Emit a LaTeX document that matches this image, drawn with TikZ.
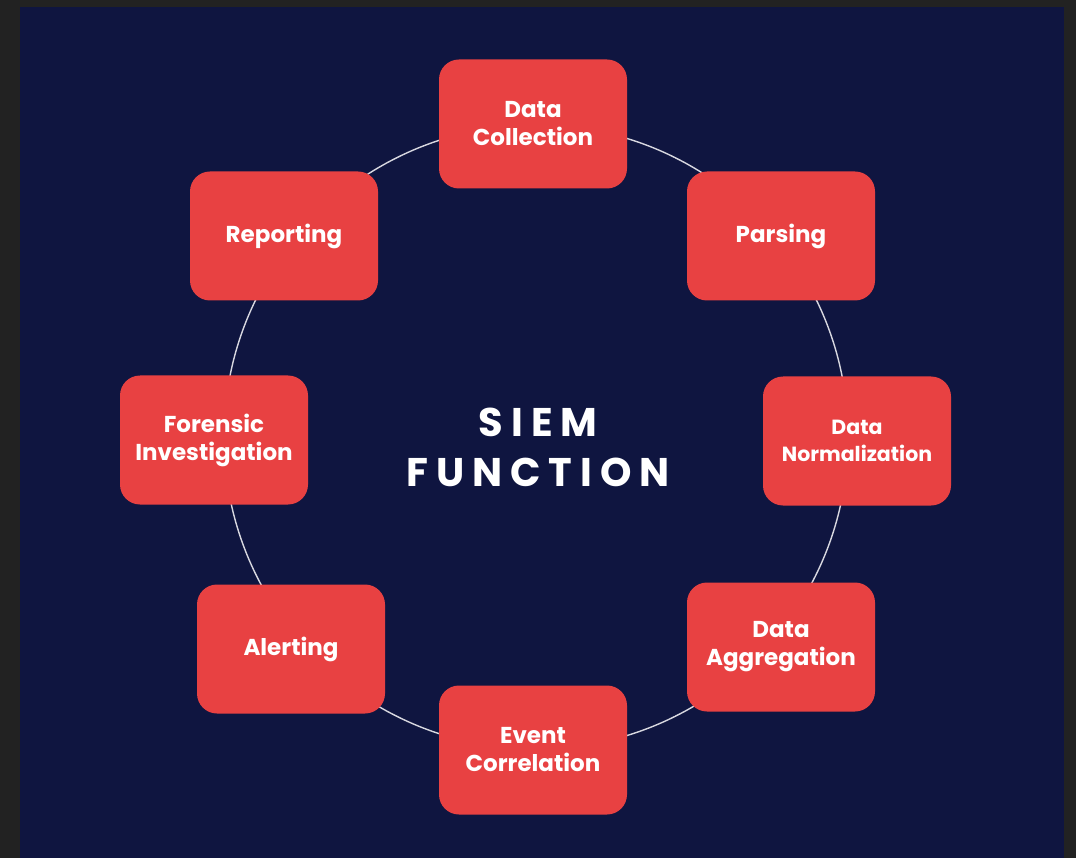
\documentclass[tikz,border=0pt]{standalone}
\usepackage{fontspec}
\setmainfont{Poppins}
\newfontfamily\titlefont[LetterSpace=20]{Poppins}
\definecolor{frame}{HTML}{222222}
\definecolor{navy}{HTML}{0F1540}
\definecolor{boxred}{HTML}{E84142}
\definecolor{ring}{HTML}{D8D8E0}
\tikzset{
  fn/.style={fill=boxred, rounded corners=20pt, minimum width=188pt, minimum height=129pt,
    text=white, font=\fontsize{23}{28}\selectfont\bfseries, align=center, inner sep=0pt},
  fnsmall/.style={fn, font=\fontsize{20.5}{27}\selectfont\bfseries},
  ringline/.style={draw=ring, line width=1.4pt},
  titlestyle/.style={text=white, font=\titlefont\fontsize{40}{50}\selectfont\bfseries, align=center}
}
\begin{document}
\begin{tikzpicture}[x=1pt,y=-1pt]
\fill[frame] (0,0) rectangle (1076,858);
\fill[navy] (20,7) rectangle (1064,858);
\useasboundingbox (0,0) rectangle (1076,858);
\coordinate (centre) at (536,437);
\draw[ringline] (centre) circle[radius=312pt];
\node[fn] (collect) at (533,124) {Data\\Collection};
\node[fn] (parse) at (781,236) {Parsing};
\node[fnsmall] (norm) at (857,441) {Data\\Normalization};
\node[fn] (aggr) at (781,647) {Data\\Aggregation};
\node[fn] (corr) at (533,750) {Event\\Correlation};
\node[fn] (alert) at (291,649) {Alerting};
\node[fn] (forensic) at (214,440) {Forensic\\Investigation};
\node[fn] (report) at (284,236) {Reporting};
\node[titlestyle] (title) at (538,447) {SIEM\\FUNCTION};
\end{tikzpicture}
\end{document}
